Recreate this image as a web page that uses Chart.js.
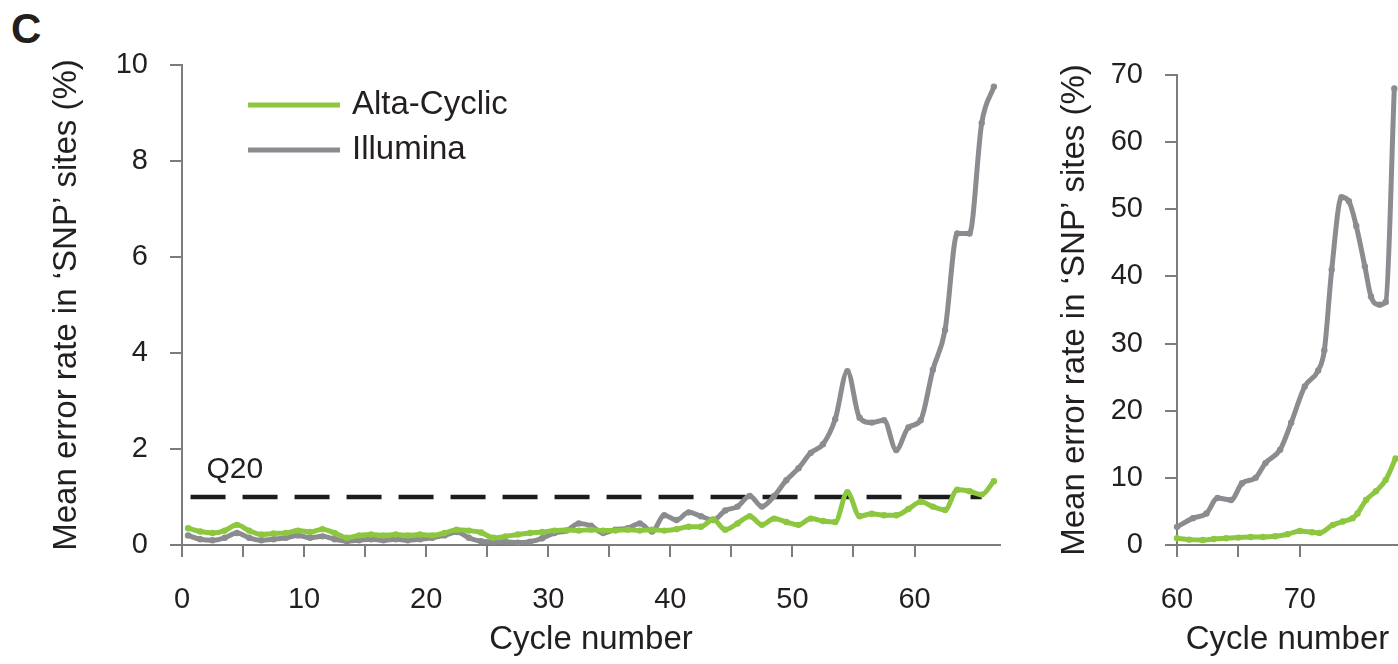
<!DOCTYPE html>
<html><head><meta charset="utf-8">
<script src="https://cdn.jsdelivr.net/npm/chart.js@4.4.1/dist/chart.umd.min.js"></script>
<style>
html,body{margin:0;padding:0;background:#fff;width:1398px;height:664px;overflow:hidden;}
#wrap{position:relative;width:1398px;height:664px;overflow:hidden;background:#fff;}
#panel{position:absolute;left:11px;top:8px;font:bold 42px "Liberation Sans",Arial,sans-serif;color:#231f20;line-height:42px;}
#c1{position:absolute;left:0;top:0;}
#c2{position:absolute;left:1000px;top:0;}
</style></head><body>
<div id="wrap">
<div id="panel">C</div>
<canvas id="c1" width="1030" height="664"></canvas>
<canvas id="c2" width="430" height="664"></canvas>
</div>
<script>
// ---------- data ----------
const seriesNames = ['Alta-Cyclic', 'Illumina'];
const thresholdLabel = 'Q20';
const thresholdValue = 1.0;
const thresholdStart = 0.7;
const thresholdEnd = 65.5;
const xTitle = 'Cycle number';
const yTitle = 'Mean error rate in \u2018SNP\u2019 sites (%)';

const leftCycles = [0.5,1.5,2.5,3.5,4.5,5.5,6.5,7.5,8.5,9.5,
  10.5,11.5,12.5,13.5,14.5,15.5,16.5,17.5,18.5,19.5,
  20.5,21.5,22.5,23.5,24.5,25.5,26.5,27.5,28.5,29.5,
  30.5,31.5,32.5,33.5,34.5,35.5,36.5,37.5,38.5,39.5,
  40.5,41.5,42.5,43.5,44.5,45.5,46.5,47.5,48.5,49.5,
  50.5,51.5,52.5,53.5,54.5,55.5,56.5,57.5,58.5,59.5,
  60.5,61.5,62.5,63.5,64.5,65.5,66.5];
const leftAlta = [0.35,0.28,0.25,0.30,0.42,0.30,0.22,0.24,0.25,0.30,
  0.27,0.33,0.25,0.15,0.20,0.22,0.20,0.22,0.20,0.22,
  0.20,0.25,0.32,0.30,0.26,0.15,0.18,0.22,0.25,0.27,
  0.30,0.31,0.30,0.32,0.30,0.30,0.32,0.30,0.32,0.30,
  0.33,0.38,0.38,0.53,0.32,0.45,0.60,0.42,0.55,0.48,
  0.42,0.55,0.50,0.48,1.10,0.60,0.65,0.62,0.62,0.75,
  0.90,0.80,0.73,1.15,1.12,1.05,1.33];
const leftIllumina = [0.20,0.12,0.10,0.15,0.25,0.15,0.10,0.12,0.15,0.20,
  0.15,0.18,0.12,0.08,0.10,0.12,0.10,0.12,0.10,0.12,
  0.15,0.20,0.27,0.15,0.08,0.07,0.07,0.05,0.07,0.14,
  0.25,0.30,0.45,0.40,0.25,0.32,0.35,0.45,0.28,0.62,
  0.52,0.68,0.60,0.52,0.72,0.80,1.02,0.80,1.02,1.35,
  1.60,1.92,2.10,2.62,3.62,2.65,2.55,2.60,1.98,2.45,
  2.60,3.65,4.48,6.49,6.49,8.79,9.55];

const rightAltaCycles = [60.0,61.0,62.1,63.0,64.0,65.0,66.0,67.0,68.0,69.0,70.0,71.0,71.6,72.7,73.5,74.3,74.7,75.4,76.2,77.0,77.8];
const rightAlta = [1.0,0.8,0.75,0.9,1.0,1.1,1.2,1.2,1.3,1.6,2.1,1.9,1.8,3.0,3.5,4.0,4.7,6.7,8.0,9.7,12.9];
const rightIlluminaCycles = [60.0,61.3,62.4,63.3,64.4,65.3,66.4,67.2,68.4,69.3,70.4,71.5,72.0,72.6,73.4,74.0,74.6,75.3,75.8,76.5,77.0,77.7];
const rightIllumina = [2.7,4.0,4.7,7.0,6.7,9.2,10.0,12.2,14.2,18.2,23.6,26.0,29.0,41.0,51.8,51.2,47.5,41.5,37.0,35.8,36.2,68.0];

// ---------- style ----------
const GREEN = '#8dc63f', GRAY = '#8a8c8f', DASH = '#1c1c1c', AXIS = '#7d7d7d', TEXT = '#231f20';
const FONT = '"Liberation Sans", Arial, Helvetica, sans-serif';

const pts = (xs, ys) => xs.map((x, i) => ({x: x, y: ys[i]}));

function lineDs(label, xs, ys, color) {
  return {label: label, data: pts(xs, ys), borderColor: color, backgroundColor: color,
    pointBackgroundColor: color, pointBorderWidth: 0, pointRadius: 3.2, pointHoverRadius: 0,
    borderWidth: 5, cubicInterpolationMode: 'monotone', clip: false, inLegend: true};
}

function makeScales(o) {
  return {
    x: {type: 'linear', min: o.xMin, max: o.xMax,
      afterBuildTicks: s => { s.ticks = s.ticks.filter(t => Math.abs(t.value % 5) < 1e-9); },
      afterFit: s => { s.height = 119; },
      ticks: {stepSize: 5, autoSkip: false, maxRotation: 0, padding: 26, color: TEXT,
        font: {size: 29, family: FONT}, callback: v => (v % 10 === 0 ? String(v) : '')},
      grid: {display: true, drawOnChartArea: false, drawTicks: true, tickLength: 12, color: AXIS, lineWidth: 2},
      border: {display: true, color: AXIS, width: 2},
      title: {display: true, text: xTitle, color: TEXT, font: {size: 33, family: FONT}, padding: {top: 0, bottom: 4}}
    },
    y: {type: 'linear', min: 0, max: o.yMax,
      afterFit: s => { s.width = o.yWidth; },
      ticks: {stepSize: o.yStep, padding: 22, color: TEXT, font: {size: 29, family: FONT}},
      grid: {display: true, drawOnChartArea: false, drawTicks: true, tickLength: 12, color: AXIS, lineWidth: 2},
      border: {display: true, color: AXIS, width: 2},
      title: {display: true, text: yTitle, color: TEXT, font: {size: 33, family: FONT}, padding: {top: o.titlePad, bottom: 0}}
    }
  };
}

const inlineLegend = {
  id: 'inlineLegend',
  afterDatasetsDraw(chart) {
    if (!chart.options.plugins.inlineLegend || !chart.options.plugins.inlineLegend.show) return;
    const {ctx, chartArea: a} = chart;
    const items = chart.data.datasets.filter(d => d.inLegend);
    ctx.save();
    ctx.font = '33px ' + FONT;
    ctx.fillStyle = TEXT; ctx.textBaseline = 'middle'; ctx.textAlign = 'left';
    items.forEach((d, i) => {
      const y = a.top + 40 + i * 45;
      ctx.strokeStyle = d.borderColor; ctx.lineWidth = 5; ctx.lineCap = 'butt';
      ctx.beginPath(); ctx.moveTo(a.left + 66, y); ctx.lineTo(a.left + 158, y); ctx.stroke();
      ctx.fillText(d.label, a.left + 170, y);
    });
    ctx.restore();
  }
};

const thresholdText = {
  id: 'thresholdText',
  afterDatasetsDraw(chart) {
    if (!chart.options.plugins.thresholdText || !chart.options.plugins.thresholdText.show) return;
    const {ctx, scales} = chart;
    ctx.save();
    ctx.font = '30px ' + FONT;
    ctx.fillStyle = TEXT; ctx.textBaseline = 'middle'; ctx.textAlign = 'left';
    ctx.fillText(thresholdLabel, scales.x.getPixelForValue(2.0), scales.y.getPixelForValue(thresholdValue) - 27);
    ctx.restore();
  }
};

Chart.register(inlineLegend, thresholdText);

new Chart(document.getElementById('c1'), {
  type: 'line',
  data: {datasets: [
    lineDs(seriesNames[0], leftCycles, leftAlta, GREEN),
    lineDs(seriesNames[1], leftCycles, leftIllumina, GRAY),
    {label: thresholdLabel, data: pts([thresholdStart, thresholdEnd], [thresholdValue, thresholdValue]),
      borderColor: DASH, borderWidth: 4.5, borderDash: [35, 17], pointRadius: 0, pointHoverRadius: 0, clip: false}
  ]},
  options: {
    responsive: false, animation: false, events: [],
    layout: {padding: {left: 0, top: 65, right: 30, bottom: 0}},
    scales: makeScales({xMin: 0, xMax: 67, yMax: 10, yStep: 2, yWidth: 182, titlePad: 47}),
    plugins: {legend: {display: false}, tooltip: {enabled: false},
      inlineLegend: {show: true}, thresholdText: {show: true}}
  }
});

new Chart(document.getElementById('c2'), {
  type: 'line',
  data: {datasets: [
    lineDs(seriesNames[0], rightAltaCycles, rightAlta, GREEN),
    lineDs(seriesNames[1], rightIlluminaCycles, rightIllumina, GRAY)
  ]},
  options: {
    responsive: false, animation: false, events: [],
    layout: {padding: {left: 0, top: 75, right: 32, bottom: 0}},
    scales: makeScales({xMin: 60, xMax: 78, yMax: 70, yStep: 10, yWidth: 177, titlePad: 55}),
    plugins: {legend: {display: false}, tooltip: {enabled: false},
      inlineLegend: {show: false}, thresholdText: {show: false}}
  }
});
</script>
</body></html>
